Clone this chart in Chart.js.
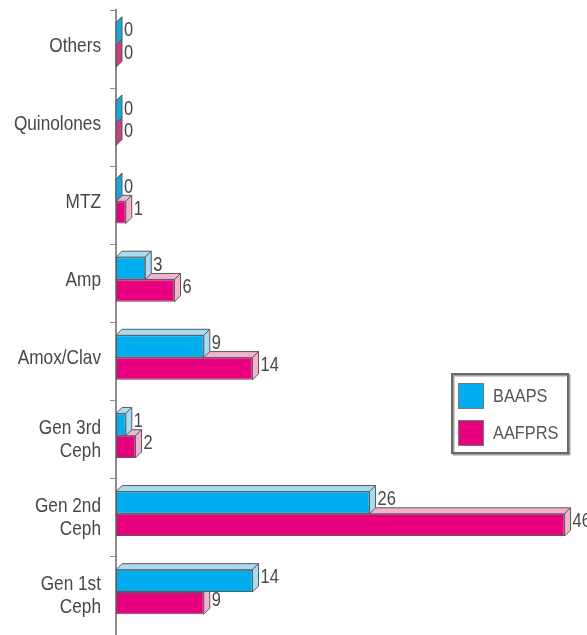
<!DOCTYPE html>
<html>
<head>
<meta charset="utf-8">
<script src="https://cdn.jsdelivr.net/npm/chart.js@4/dist/chart.umd.min.js"></script>
<style>
  html, body { margin: 0; padding: 0; background: #fff; }
  #wrap { width: 587px; height: 635px; position: relative; }
</style>
</head>
<body>
<div id="wrap"><canvas id="c" width="587" height="635"></canvas></div>
<script>
// Antibiotic use reported by each society survey
const categories = ['Others', 'Quinolones', 'MTZ', 'Amp', 'Amox/Clav',
  ['Gen 3rd', 'Ceph'], ['Gen 2nd', 'Ceph'], ['Gen 1st', 'Ceph']];
const seriesNames = ['BAAPS', 'AAFPRS'];
const baaps  = [0, 0, 0, 3, 9, 1, 26, 14];
const aafprs = [0, 0, 1, 6, 14, 2, 46, 9];

const FONT = '"Liberation Sans", Arial, sans-serif';
const NARROW = 0.82;   // horizontal squeeze for a narrow face
const TEXT = '#474747';
const mainColors  = ['#00aeef', '#e8007f'];
const lightColors = ['#a9dcf1', '#f2b3cf'];
const zeroColors  = ['#1aa6da', '#c8417f'];
const EDGE = '#5a5a5a';
const DEPTH = 6;   // extrusion of the box faces
const LIFT = 4;    // boxes sit a little above the band centre

// narrow text helper: squeeze horizontally around the anchor point
function narrowText(ctx, str, x, y, size, align, squeeze) {
  ctx.save();
  ctx.font = size + 'px ' + FONT;
  ctx.textAlign = align;
  ctx.textBaseline = 'middle';
  ctx.translate(x, y);
  ctx.scale(squeeze || NARROW, 1);
  ctx.fillText(str, 0, 0);
  ctx.restore();
}

// Draws the top and side faces of each box, the values and the category names
const boxFaces = {
  id: 'boxFaces',
  beforeDatasetsDraw(chart) {
    const ctx = chart.ctx;
    ctx.save();
    ctx.translate(0, -LIFT);
    for (const di of [1, 0]) {
      const meta = chart.getDatasetMeta(di);
      meta.data.forEach((el, i) => {
        const p = el.getProps(['x', 'y', 'base', 'height'], true);
        const top = p.y - p.height / 2, bot = p.y + p.height / 2;
        const x0 = p.base, x1 = p.x;
        const v = chart.data.datasets[di].data[i];
        ctx.lineWidth = 1;
        ctx.strokeStyle = EDGE;
        // top face
        ctx.beginPath();
        ctx.moveTo(x0, top);
        ctx.lineTo(x0 + DEPTH, top - DEPTH);
        ctx.lineTo(x1 + DEPTH, top - DEPTH);
        ctx.lineTo(x1, top);
        ctx.closePath();
        ctx.fillStyle = lightColors[di];
        ctx.fill();
        ctx.stroke();
        // side face
        ctx.beginPath();
        ctx.moveTo(x1, top);
        ctx.lineTo(x1 + DEPTH, top - DEPTH);
        ctx.lineTo(x1 + DEPTH, bot - DEPTH);
        ctx.lineTo(x1, bot);
        ctx.closePath();
        ctx.fillStyle = v === 0 ? zeroColors[di] : lightColors[di];
        ctx.fill();
        ctx.stroke();
      });
    }
  },
  afterDatasetsDraw(chart) {
    const ctx = chart.ctx;
    ctx.fillStyle = TEXT;
    for (const di of [0, 1]) {
      const meta = chart.getDatasetMeta(di);
      meta.data.forEach((el, i) => {
        const p = el.getProps(['x', 'y'], true);
        const v = chart.data.datasets[di].data[i];
        narrowText(ctx, String(v), p.x + DEPTH + 2, p.y - DEPTH / 2, 20, 'left');
      });
    }
    ctx.restore();
  },
  afterDraw(chart) {
    const ctx = chart.ctx;
    // category names beside the axis
    const yScale = chart.scales.y;
    ctx.save();
    ctx.fillStyle = TEXT;
    chart.data.labels.forEach((lab, i) => {
      const lines = Array.isArray(lab) ? lab : [lab];
      const cy = yScale.getPixelForTick(i) - (lines.length === 1 ? 3 : 0);
      const lh = 23;
      lines.forEach((ln, k) => {
        const ly = cy + (k - (lines.length - 1) / 2) * lh;
        narrowText(ctx, ln, yScale.right - 15, ly, 21, 'right');
      });
    });
    // boxed legend at the right
    const bx = 452, by = 374, bw = 116, bh = 79;
    ctx.strokeStyle = '#a0a0a0';
    ctx.lineWidth = 2;
    ctx.strokeRect(bx + 1.5, by + 1.5, bw, bh);
    ctx.strokeStyle = '#6a6a6a';
    ctx.strokeRect(bx, by, bw, bh);
    chart.data.datasets.forEach((ds, i) => {
      const sy = by + 9 + i * 37;
      ctx.fillStyle = ds.backgroundColor;
      ctx.fillRect(bx + 6, sy, 26, 26);
      ctx.lineWidth = 1;
      ctx.strokeStyle = '#7a7a7a';
      ctx.strokeRect(bx + 6.5, sy + 0.5, 25, 25);
      ctx.fillStyle = '#555';
      narrowText(ctx, ds.label, bx + 41, sy + 14, 19, 'left', 0.86);
    });
    ctx.restore();
  }
};

new Chart(document.getElementById('c'), {
  type: 'bar',
  data: {
    labels: categories,
    datasets: [
      { label: seriesNames[0], data: baaps,  backgroundColor: mainColors[0],
        borderColor: EDGE, borderWidth: 1, borderSkipped: false },
      { label: seriesNames[1], data: aafprs, backgroundColor: mainColors[1],
        borderColor: EDGE, borderWidth: 1, borderSkipped: false }
    ]
  },
  options: {
    indexAxis: 'y',
    responsive: false,
    animation: false,
    layout: { padding: { top: 10, bottom: -4, left: 0, right: 0 } },
    datasets: { bar: { categoryPercentage: 0.57, barPercentage: 1 } },
    plugins: { legend: { display: false }, tooltip: { enabled: false } },
    scales: {
      x: { display: false, min: 0, max: 48.3 },
      y: {
        afterFit(scale) {
          scale.width = 116;
          scale.paddingTop = 0;
          scale.paddingBottom = 0;
        },
        grid: { display: true, drawOnChartArea: false, drawTicks: true,
                tickLength: 6, color: '#8c8c8c', lineWidth: 1, offset: true },
        border: { display: true, color: '#8c8c8c', width: 2 },
        ticks: { display: false }
      }
    }
  },
  plugins: [boxFaces]
});
</script>
</body>
</html>
